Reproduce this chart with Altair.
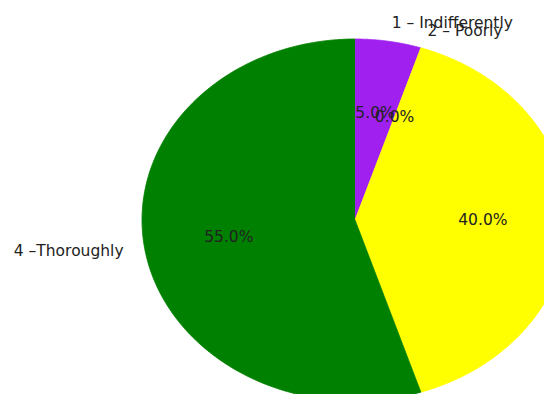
import altair as alt
import pandas as pd

# ---- data ----
labels = ["1 – Indifferently", "2 – Poorly", "3 – Adequately", "4 –Thoroughly"]
values = [5, 0, 40, 55]
colors = ["#a020f0", "#ff0000", "#ffff00", "#008000"]

total = float(sum(values))
starts = []
acc = 0.0
for v in values:
    starts.append(acc / total)
    acc += v

df = pd.DataFrame({
    "label": labels,
    "value": values,
    "start": starts,
    "frac": [v / total for v in values],
    "idx": list(range(len(values))),
})

N = 120  # arc resolution
xs = alt.Scale(domain=[-1.629, 0.887], nice=False, zero=False)
ys = alt.Scale(domain=[-0.9613, 1.1713], nice=False, zero=False)
fill_scale = alt.Scale(domain=labels, range=colors)
FS = 15.5
TXT = "#222222"

base = alt.Chart(df).transform_calculate(
    mid="datum.start + datum.frac / 2"
)

wedges = alt.Chart(df).transform_filter(
    "datum.value > 0"
).transform_calculate(
    pts=f"sequence(-1, {N + 1})"
).transform_flatten(
    ["pts"]
).transform_calculate(
    theta=f"2 * PI * (datum.start + datum.frac * max(datum.pts, 0) / {N})"
).transform_calculate(
    px="datum.pts < 0 ? 0 : sin(datum.theta)",
    py="datum.pts < 0 ? 0 : cos(datum.theta)",
).mark_line(strokeWidth=0.8, interpolate="linear").encode(
    x=alt.X("px:Q", scale=xs, axis=None),
    y=alt.Y("py:Q", scale=ys, axis=None),
    order=alt.Order("pts:Q"),
    detail="label:N",
    fill=alt.Fill("label:N", scale=fill_scale, legend=None),
    stroke=alt.Stroke("label:N", scale=fill_scale, legend=None),
)

lab = base.transform_calculate(
    lx="1.1 * sin(2 * PI * datum.mid)",
    ly="1.1 * cos(2 * PI * datum.mid)",
)
lab_right = lab.transform_filter("datum.lx >= 0").mark_text(
    align="left", baseline="middle", font="DejaVu Sans", fontSize=FS, color=TXT
).encode(
    x=alt.X("lx:Q", scale=xs, axis=None),
    y=alt.Y("ly:Q", scale=ys, axis=None),
    text="label:N",
)
lab_left = lab.transform_filter("datum.lx < 0").mark_text(
    align="right", baseline="middle", font="DejaVu Sans", fontSize=FS, color=TXT
).encode(
    x=alt.X("lx:Q", scale=xs, axis=None),
    y=alt.Y("ly:Q", scale=ys, axis=None),
    text="label:N",
)

pct = base.transform_calculate(
    tx="0.6 * sin(2 * PI * datum.mid)",
    ty="0.6 * cos(2 * PI * datum.mid)",
    ptxt="format(datum.frac, '.1%')",
).mark_text(
    align="center", baseline="middle", font="DejaVu Sans", fontSize=FS, color=TXT
).encode(
    x=alt.X("tx:Q", scale=xs, axis=None),
    y=alt.Y("ty:Q", scale=ys, axis=None),
    text="ptxt:N",
)

chart = alt.layer(wedges, lab_right, lab_left, pct).properties(
    width=536, height=386,
    autosize=alt.AutoSizeParams(type="none"),
    padding=0,
).configure_view(stroke=None)

chart.save("out.html", embed_options={"renderer": "svg", "actions": False})
